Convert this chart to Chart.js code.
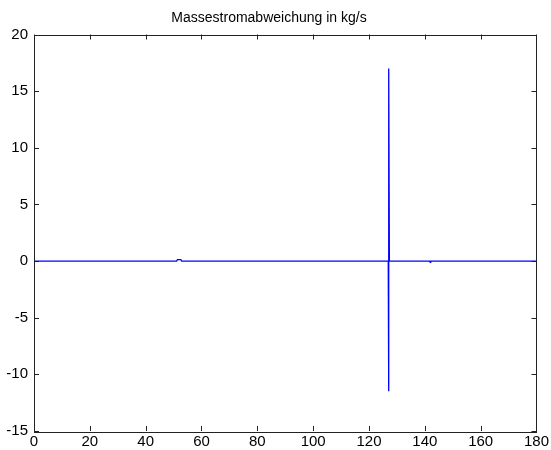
<!DOCTYPE html>
<html>
<head>
<meta charset="utf-8">
<script src="https://cdn.jsdelivr.net/npm/chart.js@4"></script>
<style>
  html, body { margin: 0; padding: 0; background: #fff; }
  #wrap { width: 551px; height: 450px; }
</style>
</head>
<body>
<div id="wrap"><canvas id="chart-1"></canvas></div>
<script>
// Zeit (s) und Abweichung (kg/s)
const zeit = [0, 51.1, 51.4, 52.6, 52.9, 126.9, 127.0, 127.05, 127.15, 127.3, 141.8, 141.95, 142.1, 180];
const abweichung = [0, 0, 0.12, 0.12, 0, 0, 4.65, -11.5, 17, 0, 0, -0.12, 0, 0];

const xTicks = [0, 20, 40, 60, 80, 100, 120, 140, 160, 180];
const yTicks = [-15, -10, -5, 0, 5, 10, 15, 20];

const points = zeit.map((x, i) => ({ x: x, y: abweichung[i] }));

// MATLAB-artige Ticks nach innen, an allen vier Seiten
const innerTicks = {
  id: 'innerTicks',
  afterDraw(chart) {
    const c = chart.ctx;
    const a = chart.chartArea;
    const xs = chart.scales.x;
    const ys = chart.scales.y;
    const len = 5;
    c.save();
    c.strokeStyle = '#222';
    c.lineWidth = 1;
    c.beginPath();
    xTicks.forEach((v) => {
      const px = Math.round(xs.getPixelForValue(v)) + 0.5;
      c.moveTo(px, a.bottom); c.lineTo(px, a.bottom - len);
      c.moveTo(px, a.top); c.lineTo(px, a.top + len);
    });
    yTicks.forEach((v) => {
      const py = Math.round(ys.getPixelForValue(v)) + 0.5;
      c.moveTo(a.left, py); c.lineTo(a.left + len, py);
      c.moveTo(a.right, py); c.lineTo(a.right - len, py);
    });
    c.stroke();
    // Rahmen
    c.strokeRect(Math.round(a.left) + 0.5, Math.round(a.top) + 0.5,
      Math.round(a.right - a.left), Math.round(a.bottom - a.top));
    c.restore();
  }
};

const ctx1 = document.getElementById('chart-1').getContext('2d');
const chart1 = new Chart(ctx1, {
  type: 'scatter',
  data: {
    datasets: [{
      data: points,
      showLine: true,
      borderColor: '#0000ff',
      backgroundColor: '#0000ff',
      borderWidth: 1.3,
      pointRadius: 0,
      tension: 0
    }]
  },
  options: {
    responsive: true,
    maintainAspectRatio: false,
    animation: false,
    layout: { padding: { left: 0, right: 13, top: 0, bottom: 0 } },
    plugins: {
      legend: { display: false },
      tooltip: { enabled: false },
      title: {
        display: true,
        text: 'Massestromabweichung in kg/s',
        color: '#000',
        font: { family: 'Liberation Sans, Arial, sans-serif', size: 14, weight: 'normal' },
        padding: { top: 9.6, bottom: 8.1 }
      }
    },
    scales: {
      x: {
        type: 'linear',
        min: 0,
        max: 180,
        afterBuildTicks: (s) => { s.ticks = xTicks.map((v) => ({ value: v })); },
        afterFit: (s) => { s.height = 19; },
        grid: { display: false, drawTicks: false },
        border: { display: false },
        ticks: {
          color: '#000',
          padding: 2,
          maxRotation: 0,
          autoSkip: false,
          font: { family: 'Liberation Sans, Arial, sans-serif', size: 15 }
        }
      },
      y: {
        type: 'linear',
        min: -15,
        max: 20,
        afterBuildTicks: (s) => { s.ticks = yTicks.map((v) => ({ value: v })); },
        afterFit: (s) => { s.width = 34; },
        grid: { display: false, drawTicks: false },
        border: { display: false },
        ticks: {
          color: '#000',
          padding: 6,
          autoSkip: false,
          font: { family: 'Liberation Sans, Arial, sans-serif', size: 15 }
        }
      }
    }
  },
  plugins: [innerTicks]
});
</script>
</body>
</html>
